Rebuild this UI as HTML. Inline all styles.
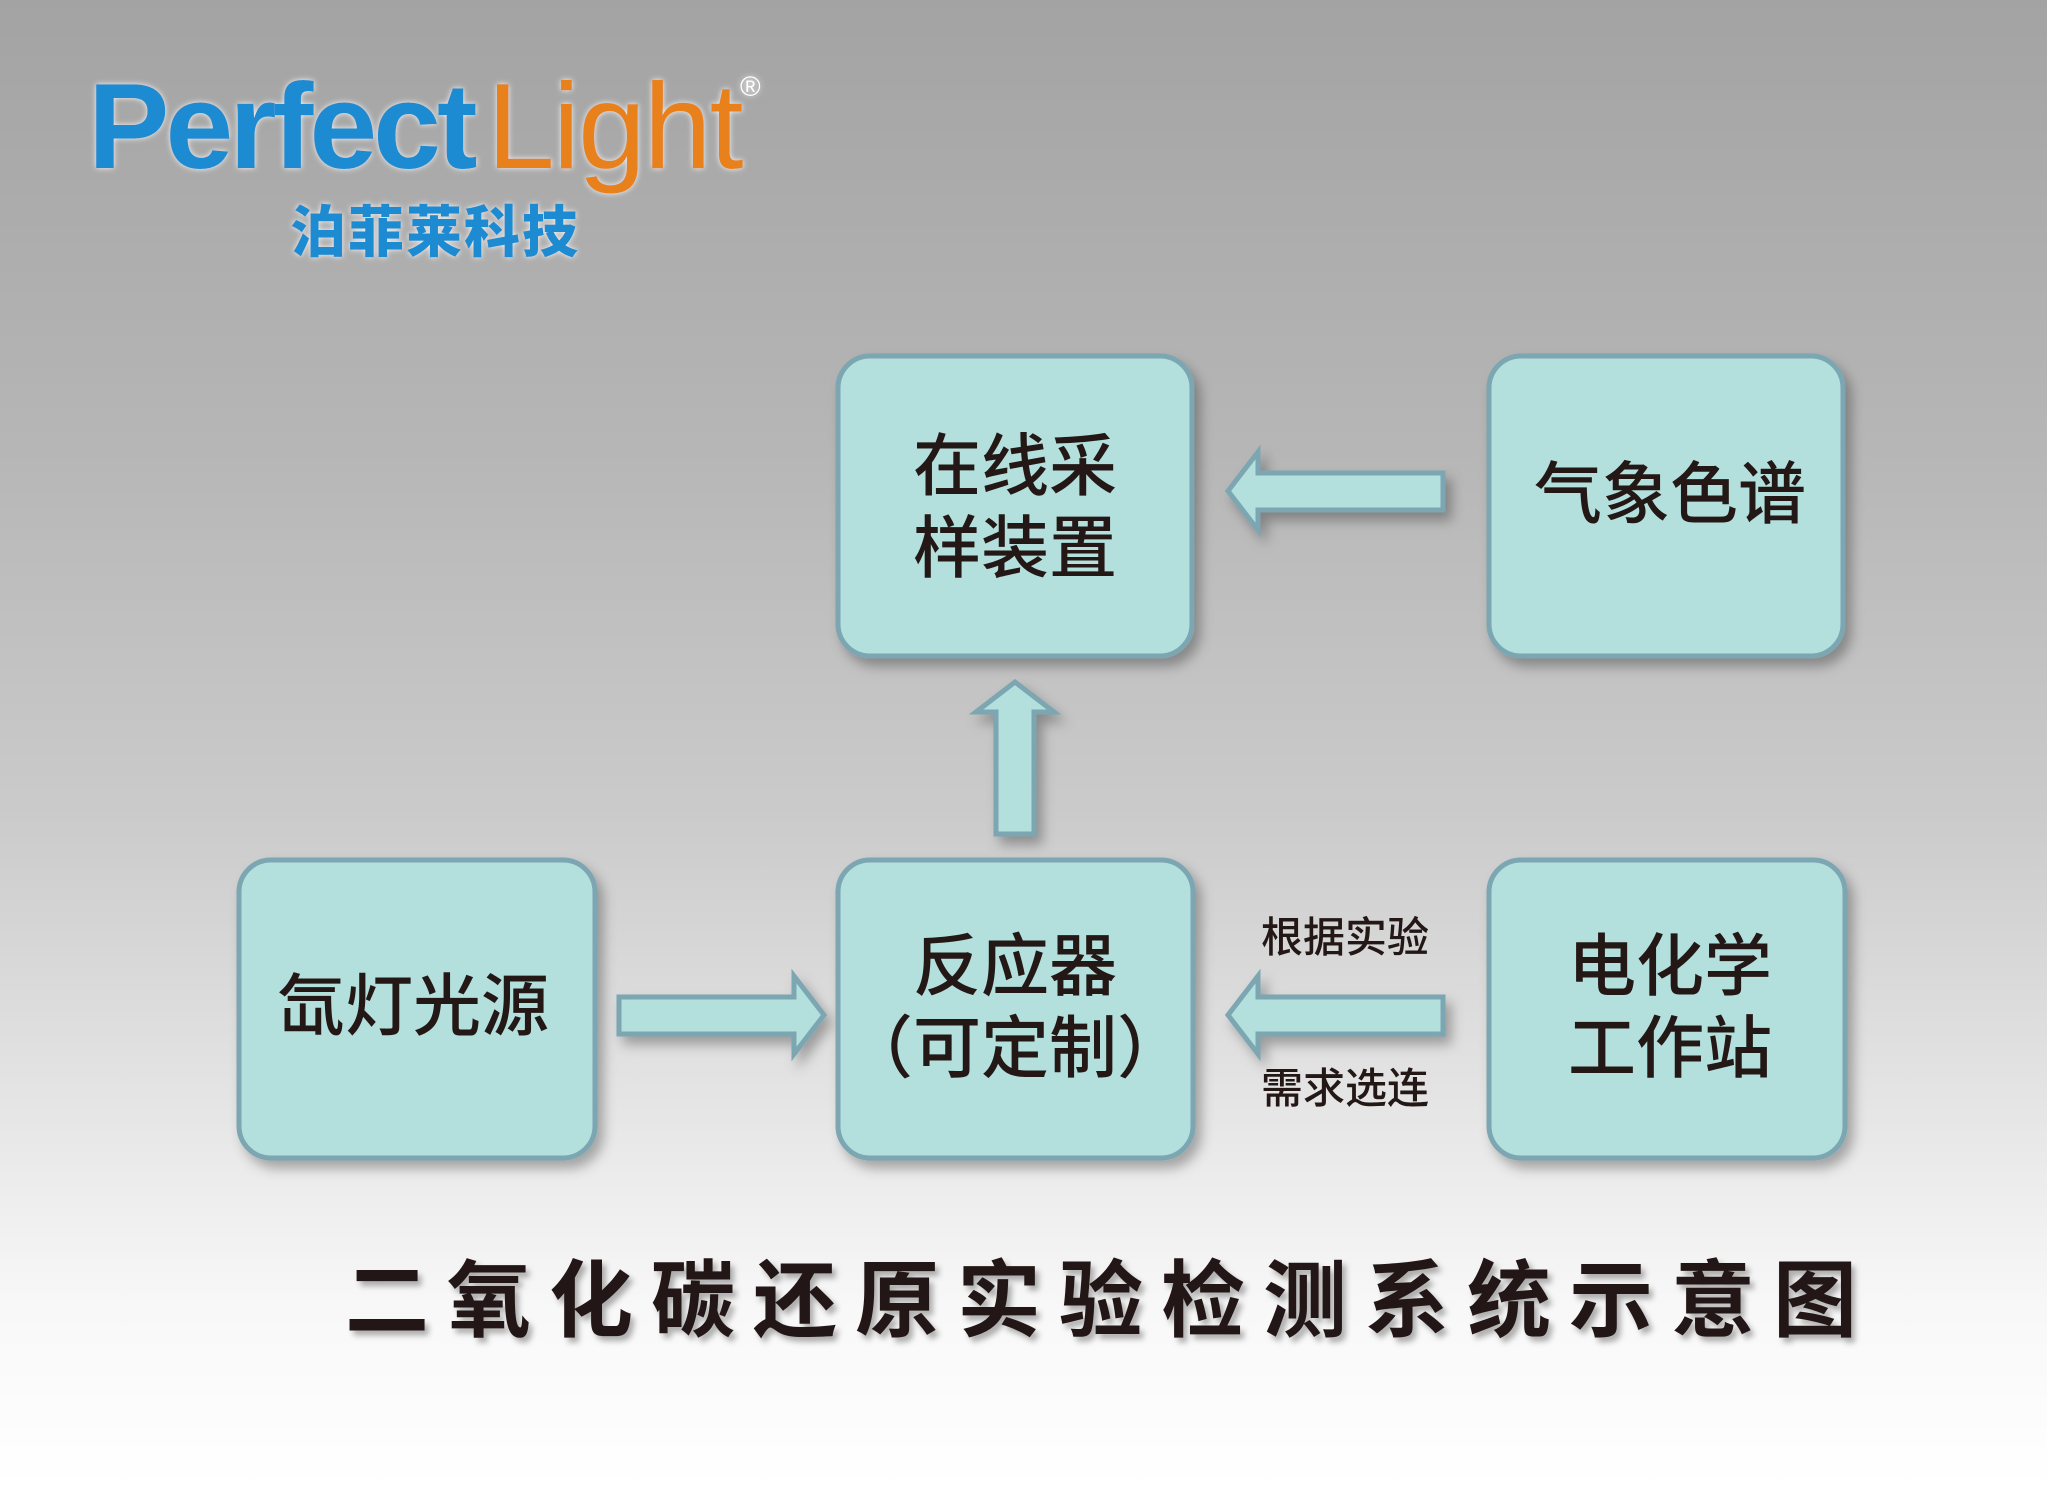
<!DOCTYPE html>
<html><head><meta charset="utf-8"><style>
html,body{margin:0;padding:0;}
body{width:2047px;height:1488px;overflow:hidden;background:linear-gradient(180deg,#a3a3a3 0%,#b6b6b6 30%,#cbcbcb 55%,#e6e6e6 75%,#f8f8f8 88%,#ffffff 100%);}
svg{display:block;}
</style></head><body>
<svg width="2047" height="1488" viewBox="0 0 2047 1488" xmlns="http://www.w3.org/2000/svg">
<defs>
<filter id="sh" x="-10%" y="-10%" width="130%" height="130%"><feDropShadow dx="6" dy="8" stdDeviation="6" flood-color="#000" flood-opacity="0.3"/></filter>
<filter id="tsh" x="-5%" y="-20%" width="110%" height="150%"><feDropShadow dx="4" dy="5" stdDeviation="3" flood-color="#000" flood-opacity="0.3"/></filter>
<filter id="glow" x="-5%" y="-20%" width="110%" height="150%"><feDropShadow dx="0" dy="0" stdDeviation="3" flood-color="#fff" flood-opacity="0.9"/></filter>
</defs>
<g font-family="Liberation Sans, DejaVu Sans, sans-serif" font-weight="bold" filter="url(#glow)">
<text x="88" y="168" font-size="122" fill="#1a8bd2" letter-spacing="-4">Perfect</text>
<text x="487" y="168" font-size="122" fill="#e8801f" font-weight="normal" letter-spacing="-2">Light</text>
<text x="740" y="96" font-size="28" fill="#fff" font-weight="normal">®</text>
<text x="290" y="252" font-size="56" fill="#1a8bd2" font-family="Noto Sans CJK SC, sans-serif" font-weight="900" letter-spacing="2">泊菲莱科技</text>
</g>
<g fill="#b3dfdd" stroke="#7ba6b1" stroke-width="5" filter="url(#sh)">
<rect x="838" y="356" width="354" height="300" rx="32"/>
<rect x="1489" y="356" width="354" height="300" rx="32"/>
<rect x="239" y="860" width="356" height="298" rx="32"/>
<rect x="838" y="860" width="355" height="298" rx="32"/>
<rect x="1489" y="860" width="356" height="298" rx="32"/>
<path d="M1228,491 L1258,452 L1258,473 L1443,473 L1443,510 L1258,510 L1258,530 Z"/>
<path d="M1228,1015 L1258,976 L1258,997 L1443,997 L1443,1034 L1258,1034 L1258,1054 Z"/>
<path d="M824,1015 L794,976 L794,997 L619,997 L619,1034 L794,1034 L794,1054 Z"/>
<path d="M1015,682 L976,712 L996,712 L996,834 L1034,834 L1034,712 L1054,712 Z"/>
</g>
<g font-family="Liberation Sans, Noto Sans CJK SC, sans-serif" font-size="68" fill="#231815" text-anchor="middle" font-weight="500">
<text x="1015" y="490">在线采</text>
<text x="1015" y="572">样装置</text>
<text x="1670" y="518">气象色谱</text>
<text x="413" y="1030">氙灯光源</text>
<text x="1015" y="990">反应器</text>
<text x="1015" y="1072">（可定制）</text>
<text x="1670" y="990">电化学</text>
<text x="1670" y="1072">工作站</text>
<text x="1345" y="952" font-size="42">根据实验</text>
<text x="1345" y="1103" font-size="42">需求选连</text>
</g>
<text x="1110" y="1330" text-anchor="middle" font-family="Liberation Sans, Noto Sans CJK SC, sans-serif" font-size="84" font-weight="bold" fill="#231815" letter-spacing="18" filter="url(#tsh)">二氧化碳还原实验检测系统示意图</text>
</svg>
</body></html>
